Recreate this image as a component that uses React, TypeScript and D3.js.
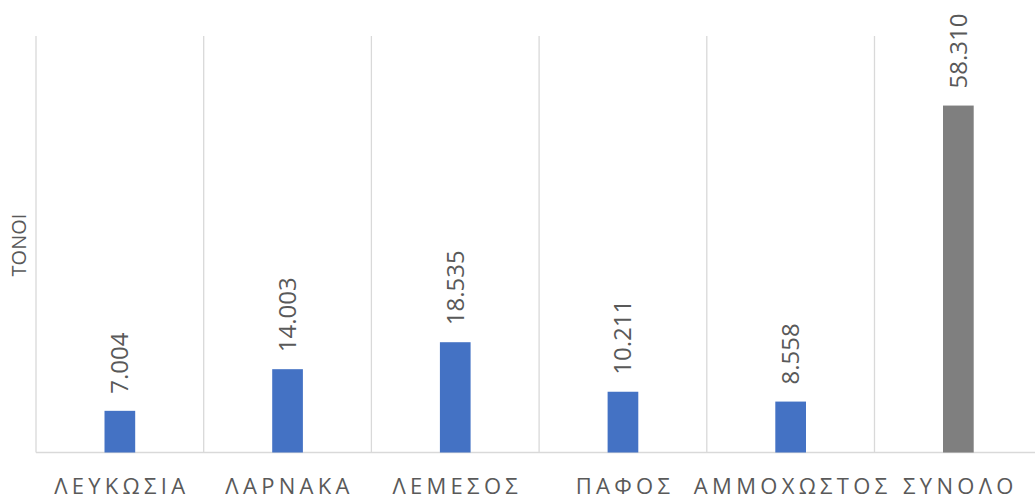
import React, { useEffect, useRef } from "react";
import * as d3 from "d3";

const categories = ["ΛΕΥΚΩΣΙΑ", "ΛΑΡΝΑΚΑ", "ΛΕΜΕΣΟΣ", "ΠΑΦΟΣ", "ΑΜΜΟΧΩΣΤΟΣ", "ΣΥΝΟΛΟ"];
const values = [7.004, 14.003, 18.535, 10.211, 8.558, 58.31];
const valueLabels = ["7.004", "14.003", "18.535", "10.211", "8.558", "58.310"];
const barColors = ["#4472C4", "#4472C4", "#4472C4", "#4472C4", "#4472C4", "#7F7F7F"];
const axisTitle = "ΤΟΝΟΙ";

export default function App() {
    const ref = useRef<SVGSVGElement | null>(null);

    useEffect(() => {
        const width = 1035;
        const height = 499;
        const margin = { top: 36, left: 36, bottom: 46.5 };
        const step = 167.7;

        const svg = d3.select(ref.current);
        svg.selectAll("*").remove();
        svg.attr("width", width).attr("height", height);

        const font = "'Open Sans', 'DejaVu Sans', sans-serif";

        const x = d3.scaleBand<string>()
            .domain(categories)
            .range([margin.left, margin.left + step * categories.length])
            .padding(0);

        const y = d3.scaleLinear()
            .domain([0, 70])
            .range([height - margin.bottom, margin.top]);

        const bw = x.bandwidth() * 0.183;

        // vertical separators between categories
        const bounds = categories.map(c => x(c) as number);
        svg.append("g").selectAll("line").data(bounds).enter().append("line")
            .attr("x1", d => d).attr("x2", d => d)
            .attr("y1", y(70)).attr("y2", y(0))
            .attr("stroke", "#d9d9d9").attr("stroke-width", 1.3);

        svg.append("line")
            .attr("x1", margin.left).attr("x2", width)
            .attr("y1", y(0)).attr("y2", y(0))
            .attr("stroke", "#d9d9d9").attr("stroke-width", 1.3);

        svg.append("g").selectAll("rect").data(values).enter().append("rect")
            .attr("x", (d, i) => (x(categories[i]) as number) + x.bandwidth() / 2 - bw / 2)
            .attr("y", d => y(d))
            .attr("width", bw)
            .attr("height", d => y(0) - y(d))
            .attr("fill", (d, i) => barColors[i]);

        // value labels, rotated
        svg.append("g").selectAll("text").data(values).enter().append("text")
            .attr("transform", (d, i) => {
                const cx = (x(categories[i]) as number) + x.bandwidth() / 2;
                return `translate(${cx},${y(d) - 17}) rotate(-90)`;
            })
            .attr("text-anchor", "start")
            .attr("dy", "0.35em")
            .attr("font-family", font)
            .attr("font-size", 24)
            .attr("fill", "#595959")
            .text((d, i) => valueLabels[i]);

        // category labels
        svg.append("g").selectAll("text").data(categories).enter().append("text")
            .attr("x", d => (x(d) as number) + x.bandwidth() / 2 + 2)
            .attr("y", 494)
            .attr("text-anchor", "middle")
            .attr("font-family", font)
            .attr("font-size", 22)
            .attr("letter-spacing", 4.3)
            .attr("fill", "#595959")
            .text(d => d);

        svg.append("text")
            .attr("transform", `translate(26,245) rotate(-90)`)
            .attr("text-anchor", "middle")
            .attr("font-family", font)
            .attr("font-size", 20)
            .attr("fill", "#595959")
            .text(axisTitle);
    }, []);

    return (
        <div style={{ position: "absolute", left: 0, top: 0, background: "#fff" }}>
            <svg ref={ref} style={{ display: "block" }}></svg>
        </div>
    );
}
